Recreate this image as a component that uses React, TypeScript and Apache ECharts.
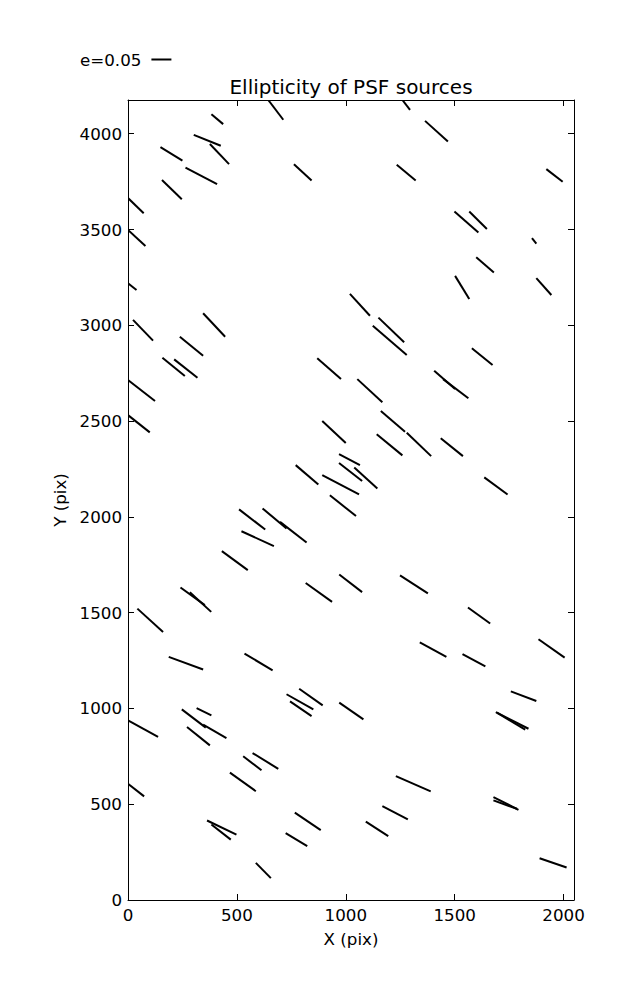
import React, { useEffect, useRef } from "react";
import * as echarts from "echarts";

// Segment endpoints in detector pixel coordinates
const startX = [383, 644, 302, 376, 149, 264, 762, 156, 0, 0, 0, 1260, 1364, 1234, 1921, 1499, 1567, 1855, 1599, 1502, 1875, 1019, 23, 345, 238, 158, 212, 0, 0, 869, 892, 969, 969, 770, 892, 1039, 1150, 1124, 1579, 1406, 1447, 1053, 1161, 1280, 1142, 1436, 1636, 927, 510, 618, 698, 521, 431, 816, 970, 241, 284, 43, 187, 535, 1249, 1561, 1885, 1340, 1536, 1758, 728, 786, 744, 970, 0, 247, 315, 345, 271, 529, 572, 468, 0, 363, 383, 766, 724, 587, 1689, 1694, 1230, 1168, 1092, 1678, 1678, 1890];
const startY = [4102, 4176, 3994, 3946, 3930, 3823, 3841, 3758, 3664, 3498, 3219, 4176, 4067, 3838, 3815, 3594, 3594, 3455, 3355, 3258, 3246, 3164, 3028, 3063, 2940, 2831, 2822, 2714, 2531, 2828, 2500, 2328, 2281, 2270, 2218, 2258, 3040, 2998, 2880, 2763, 2719, 2719, 2552, 2439, 2431, 2410, 2206, 2113, 2039, 2044, 1974, 1925, 1821, 1655, 1699, 1631, 1607, 1521, 1269, 1286, 1695, 1527, 1361, 1345, 1284, 1089, 1074, 1103, 1037, 1030, 938, 995, 1002, 915, 903, 750, 767, 665, 607, 415, 394, 456, 349, 194, 981, 978, 647, 490, 409, 537, 520, 218];
const endX = [437, 713, 426, 464, 250, 409, 843, 247, 72, 80, 39, 1295, 1469, 1321, 1996, 1609, 1648, 1875, 1680, 1567, 1944, 1111, 115, 446, 345, 261, 319, 124, 100, 978, 1000, 1065, 1075, 874, 1061, 1145, 1268, 1280, 1674, 1502, 1563, 1168, 1272, 1392, 1260, 1538, 1743, 1047, 630, 728, 820, 670, 550, 937, 1075, 353, 382, 161, 345, 664, 1377, 1663, 2005, 1462, 1641, 1875, 851, 894, 843, 1081, 138, 357, 383, 452, 376, 613, 690, 587, 74, 498, 472, 885, 823, 656, 1839, 1824, 1390, 1285, 1195, 1793, 1786, 2014];
const endY = [4050, 4073, 3937, 3841, 3860, 3737, 3756, 3658, 3585, 3414, 3184, 4125, 3959, 3756, 3749, 3484, 3503, 3426, 3275, 3137, 3158, 3050, 2920, 2940, 2841, 2735, 2726, 2605, 2441, 2719, 2385, 2270, 2187, 2169, 2117, 2148, 2911, 2845, 2793, 2667, 2619, 2598, 2444, 2317, 2321, 2317, 2117, 2004, 1934, 1939, 1866, 1847, 1722, 1556, 1607, 1539, 1504, 1399, 1203, 1199, 1601, 1443, 1265, 1269, 1220, 1039, 995, 1016, 960, 943, 851, 900, 964, 845, 807, 677, 685, 568, 541, 341, 315, 365, 281, 114, 894, 889, 567, 421, 333, 471, 476, 170];

const xMax = 2048;
const yMax = 4176;
const tickStep = 500;
const legendLabel = "e=0.05";
const titleText = "Ellipticity of PSF sources";

const FONT = "DejaVu Sans";

export default function App() {
  const ref = useRef<HTMLDivElement>(null);
  useEffect(() => {
    if (!ref.current) return;
    const chart = echarts.init(ref.current, undefined, { renderer: "svg" });
    const data = startX.map((x, i) => [x, startY[i], endX[i], endY[i]]);
    const fmt = (v: number) => (v % tickStep === 0 ? String(v) : "");
    const axisLine = { show: true, onZero: false, lineStyle: { color: "#000", width: 1 } };
    const axisTick = { show: true, inside: true, length: 6, lineStyle: { color: "#000", width: 1 } };
    chart.setOption({
      animation: false,
      backgroundColor: "#fff",
      title: {
        text: titleText,
        left: 346,
        top: 72,
        textAlign: "center",
        textStyle: { fontFamily: FONT, fontSize: 20, fontWeight: "normal", color: "#000" },
      },
      legend: {
        left: 80,
        top: 51,
        padding: 0,
        align: "right",
        icon: "rect",
        itemWidth: 20,
        itemHeight: 2,
        data: [legendLabel],
        textStyle: { fontFamily: FONT, fontSize: 16.7, color: "#000", padding: [0, 5, 0, 0] },
      },
      grid: { left: 128, top: 100, width: 446, height: 800, containLabel: false },
      xAxis: [
        {
          type: "value", min: 0, max: xMax, interval: tickStep, position: "bottom",
          axisLine, axisTick, splitLine: { show: false },
          axisLabel: { formatter: fmt, fontFamily: FONT, fontSize: 16.7, color: "#000", margin: 6 },
          name: "X (pix)", nameLocation: "middle", nameGap: 30,
          nameTextStyle: { fontFamily: FONT, fontSize: 16.7, color: "#000" },
        },
        {
          type: "value", min: 0, max: xMax, interval: tickStep, position: "top",
          axisLine, axisTick, splitLine: { show: false }, axisLabel: { show: false },
        },
      ],
      yAxis: [
        {
          type: "value", min: 0, max: yMax, interval: tickStep, position: "left",
          axisLine, axisTick, splitLine: { show: false },
          axisLabel: { formatter: fmt, fontFamily: FONT, fontSize: 16.7, color: "#000", margin: 6 },
          name: "Y (pix)", nameLocation: "middle", nameGap: 57,
          nameTextStyle: { fontFamily: FONT, fontSize: 16.7, color: "#000" },
        },
        {
          type: "value", min: 0, max: yMax, interval: tickStep, position: "right",
          axisLine, axisTick, splitLine: { show: false }, axisLabel: { show: false },
        },
      ],
      series: [
        {
          name: legendLabel,
          type: "custom",
          xAxisIndex: 0,
          yAxisIndex: 0,
          clip: true,
          itemStyle: { color: "#000" },
          encode: { x: [0, 2], y: [1, 3] },
          data,
          renderItem: (params: any, api: any) => {
            const p1 = api.coord([api.value(0), api.value(1)]);
            const p2 = api.coord([api.value(2), api.value(3)]);
            return {
              type: "line",
              shape: { x1: p1[0], y1: p1[1], x2: p2[0], y2: p2[1] },
              style: { stroke: "#000", lineWidth: 2 },
            };
          },
        },
      ],
    });
    return () => chart.dispose();
  }, []);
  return (
    <div
      ref={ref}
      style={{ position: "fixed", left: 0, top: 0, width: 637, height: 1000, background: "#fff" }}
    />
  );
}
